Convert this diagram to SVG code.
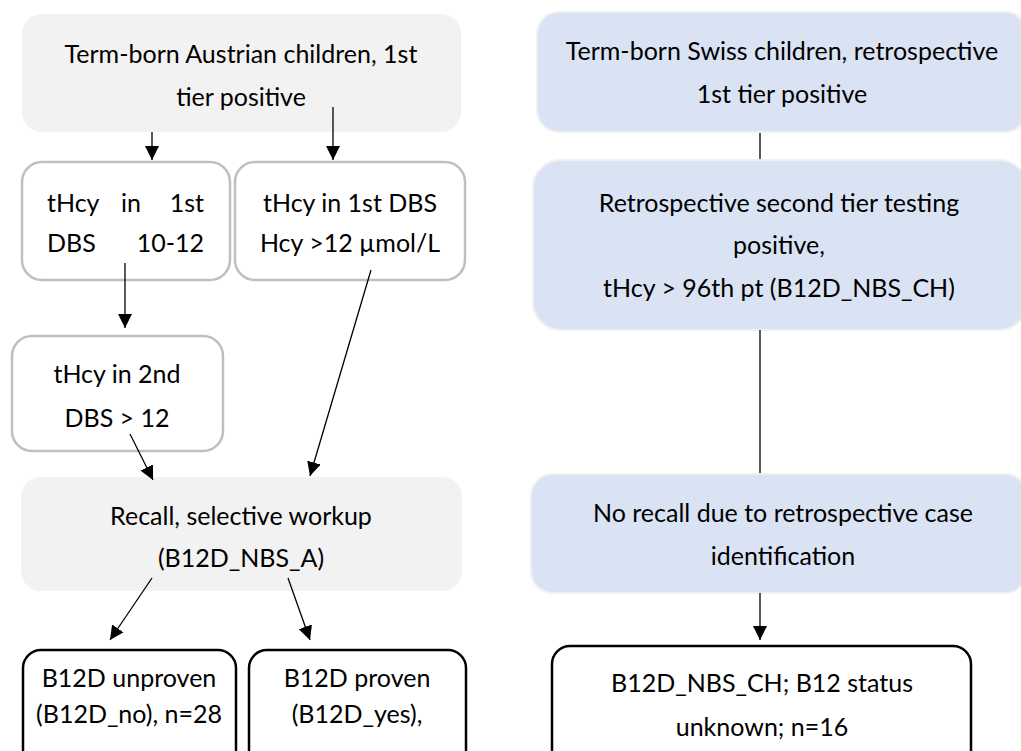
<svg xmlns="http://www.w3.org/2000/svg" width="1021" height="751" viewBox="0 0 1021 751">
<defs>
<marker id="ah" viewBox="0 0 10 10" refX="10" refY="5" markerWidth="14" markerHeight="14" markerUnits="userSpaceOnUse" orient="auto">
<path d="M0,0 L10,5 L0,10 z" fill="#000"/>
</marker>
<style>
text{font-family:Lato,"Liberation Sans",sans-serif;font-size:25px;fill:#000;text-anchor:middle}
.s{text-anchor:start}
.e{text-anchor:end}
.grey{fill:#f2f2f2;stroke:none}
.blue{fill:#dae3f3;stroke:#f0f0f0;stroke-width:2}
.gbox{fill:#fff;stroke:#bfbfbf;stroke-width:2.5}
.kbox{fill:#fff;stroke:#000;stroke-width:2.5}
.c{stroke:#000;stroke-width:1.3;fill:none}
</style>
</defs>
<rect width="1021" height="751" fill="#fff"/>
<g id="austria-top">
<rect class="grey" x="22" y="14" width="439" height="118" rx="20"/>
<text x="241" y="63">Term-born Austrian children, 1st</text>
<text x="241" y="106">tier positive</text>
</g>
<g id="thcy-10-12">
<rect class="gbox" x="22" y="162" width="208" height="118" rx="20"/>
<text class="s" x="47" y="212">tHcy</text><text x="131" y="212">in</text><text class="e" x="204" y="212">1st</text>
<text class="s" x="47" y="252">DBS</text><text class="e" x="204" y="252">10-12</text>
</g>
<g id="thcy-gt12">
<rect class="gbox" x="235" y="162" width="230" height="118" rx="20"/>
<text x="350" y="212">tHcy in 1st DBS</text>
<text x="350" y="252">Hcy &gt;12 µmol/L</text>
</g>
<g id="thcy-2nd">
<rect class="gbox" x="12" y="336" width="211" height="115" rx="20"/>
<text x="117" y="383">tHcy in 2nd</text>
<text x="117" y="427">DBS &gt; 12</text>
</g>
<g id="recall">
<rect class="grey" x="21" y="477" width="441" height="114" rx="20"/>
<text x="241" y="525">Recall, selective workup</text>
<text x="241" y="567">(B12D_NBS_A)</text>
</g>
<g id="unproven">
<rect class="kbox" x="23" y="650" width="213" height="130" rx="18"/>
<text x="129" y="687">B12D unproven</text>
<text x="129" y="723">(B12D_no), n=28</text>
</g>
<g id="proven">
<rect class="kbox" x="249" y="650" width="217" height="130" rx="18"/>
<text x="357" y="687">B12D proven</text>
<text x="357" y="723">(B12D_yes),</text>
</g>
<g id="swiss-top">
<rect class="blue" x="537" y="12" width="490" height="120" rx="22"/>
<text x="782" y="60">Term-born Swiss children, retrospective</text>
<text x="782" y="103">1st tier positive</text>
</g>
<g id="swiss-second">
<rect class="blue" x="533" y="160" width="494" height="170" rx="28"/>
<text x="779" y="212">Retrospective second tier testing</text>
<text x="779" y="254">positive,</text>
<text x="779" y="297">tHcy &gt; 96th pt (B12D_NBS_CH)</text>
</g>
<g id="swiss-norecall">
<rect class="blue" x="531" y="474" width="496" height="119" rx="22"/>
<text x="783" y="522">No recall due to retrospective case</text>
<text x="783" y="565">identification</text>
</g>
<g id="swiss-result">
<rect class="kbox" x="552" y="646" width="419" height="130" rx="18"/>
<text x="762" y="692">B12D_NBS_CH; B12 status</text>
<text x="762" y="736">unknown; n=16</text>
</g>
<g id="connectors">
<line class="c" x1="152" y1="132" x2="152" y2="160" marker-end="url(#ah)"/>
<line class="c" x1="333" y1="107" x2="333" y2="160" marker-end="url(#ah)"/>
<line class="c" x1="125" y1="263" x2="125" y2="328" marker-end="url(#ah)"/>
<line class="c" x1="130" y1="434" x2="153" y2="480" marker-end="url(#ah)"/>
<line class="c" x1="371" y1="270" x2="310" y2="476" marker-end="url(#ah)"/>
<line class="c" x1="152" y1="578" x2="110" y2="640" marker-end="url(#ah)"/>
<line class="c" x1="288" y1="578" x2="310" y2="640" marker-end="url(#ah)"/>
<line class="c" x1="760" y1="133" x2="760" y2="159"/>
<line class="c" x1="760" y1="330" x2="760" y2="473"/>
<line class="c" x1="760" y1="593" x2="760" y2="640" marker-end="url(#ah)"/>
</g>
</svg>
